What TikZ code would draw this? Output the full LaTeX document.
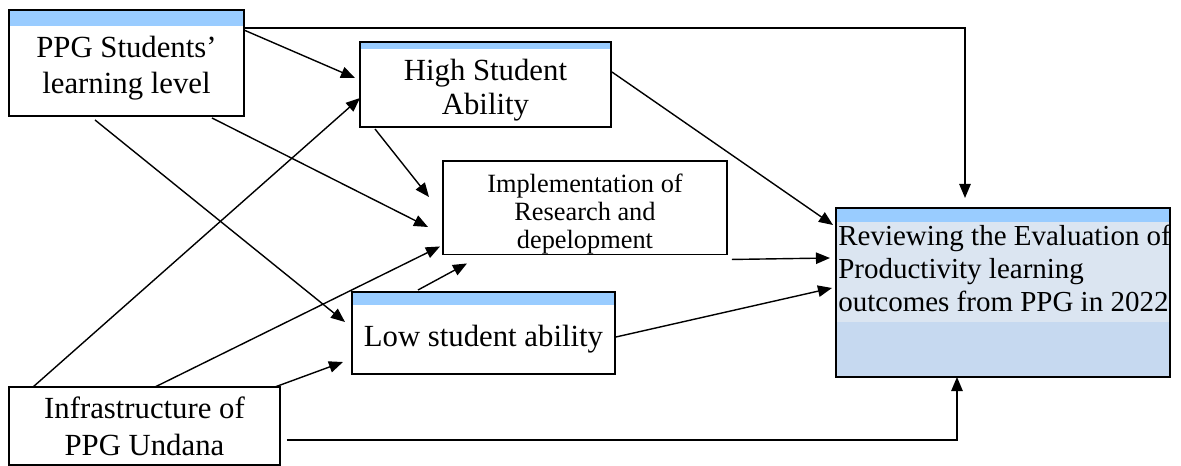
\documentclass[tikz,border=0pt]{standalone}
\usepackage{fontspec}
\setmainfont{Liberation Serif}
\usetikzlibrary{arrows.meta,positioning,calc}
\definecolor{stripblue}{RGB}{153,204,255}
\definecolor{revlight}{RGB}{219,229,241}
\definecolor{revdark}{RGB}{198,217,240}
\newcommand{\toppad}[1]{\rule{0pt}{#1}}

\begin{document}
\begin{tikzpicture}[x=0.02cm, y=-0.02cm,
  box/.style={draw, line width=0.8pt, inner sep=0pt, outer sep=0pt, anchor=north west, align=center, fill=white},
  strip/.style={path picture={\fill[stripblue] (path picture bounding box.north west) rectangle ([yshift=-#1*0.02cm]path picture bounding box.north east);}},
  revfill/.style={fill=revdark, path picture={
    \fill[revlight] ([yshift=-14*0.02cm]path picture bounding box.north west) rectangle ([yshift=-114*0.02cm]path picture bounding box.north east);
    \fill[stripblue] (path picture bounding box.north west) rectangle ([yshift=-14*0.02cm]path picture bounding box.north east);}},
  arr/.style={line width=0.8pt, -{Triangle[length=8pt,width=6.5pt]}}]
\useasboundingbox (0,0) rectangle (1181,466);

% boxes
\node[box, strip=16, minimum width=4.70cm, minimum height=2.12cm,
  font=\fontsize{17.5}{21}\selectfont] (lvl) at (9,10) {\toppad{18pt}PPG Students'\\learning level};
\node[box, strip=7, minimum width=5.02cm, minimum height=1.70cm,
  font=\fontsize{17.5}{19.5}\selectfont] (high) at (360,42) {\toppad{19pt}High Student\\Ability};
\node[box, minimum width=5.68cm, minimum height=1.84cm,
  font=\fontsize{15}{16}\selectfont] (impl) at (443,161) {\toppad{18pt}Implementation of\\Research and\\depelopment};
\node[box, strip=13, minimum width=5.26cm, minimum height=1.64cm,
  font=\fontsize{17.5}{20}\selectfont] (low) at (352,292) {\toppad{19pt}Low student ability};
\node[box, revfill, minimum width=6.68cm, minimum height=3.38cm] (rev) at (836,208) {};
\node[anchor=north west, inner sep=0pt, align=left, font=\fontsize{16.5}{18.7}\selectfont]
  (revtext) at ($(rev.north west)+(2,17)$)
  {Reviewing the Evaluation of\\Productivity learning\\outcomes from PPG in 2022};
\node[box, minimum width=5.42cm, minimum height=1.56cm,
  font=\fontsize{17.5}{21}\selectfont] (infra) at (9,387) {Infrastructure of\\PPG Undana};

% connectors
\draw[arr] ($(lvl.north east)+(0,18)$) -| ($(rev.north west)+(129,-10)$);
\draw[arr] ($(lvl.north east)+(0,20)$) -- ($(high.north west)+(-5,36)$);
\draw[arr] ($(infra.north west)+(24,0)$) -- ($(high.north west)+(0,56)$);
\draw[arr] ($(high.south west)+(15,2)$) -- ($(impl.north west)+(-14,36)$);
\draw[arr] ($(lvl.south west)+(203,2)$) -- ($(impl.north west)+(-15,66)$);
\draw[arr] ($(lvl.south west)+(86,4)$) -- ($(low.north west)+(-7,30)$);
\draw[arr] ($(infra.north west)+(146,0)$) -- ($(impl.south west)+(-3,-8)$);
\draw[arr] ($(low.north west)+(66,-2)$) -- ($(impl.south west)+(24,9)$);
\draw[arr] ($(infra.north east)+(-5,0)$) -- ($(low.north west)+(-9,70)$);
\draw[arr] ($(high.north east)+(1,30)$) -- ($(rev.north west)+(-3,17)$);
\draw[arr] ($(impl.south east)+(5,5)$) -- ($(rev.north west)+(-6,50)$);
\draw[arr] ($(low.north east)+(1,45)$) -- ($(rev.north west)+(-4,80)$);
\draw[arr] ($(infra.north east)+(7,53)$) -| ($(rev.south west)+(121,0)$);
\end{tikzpicture}
\end{document}
